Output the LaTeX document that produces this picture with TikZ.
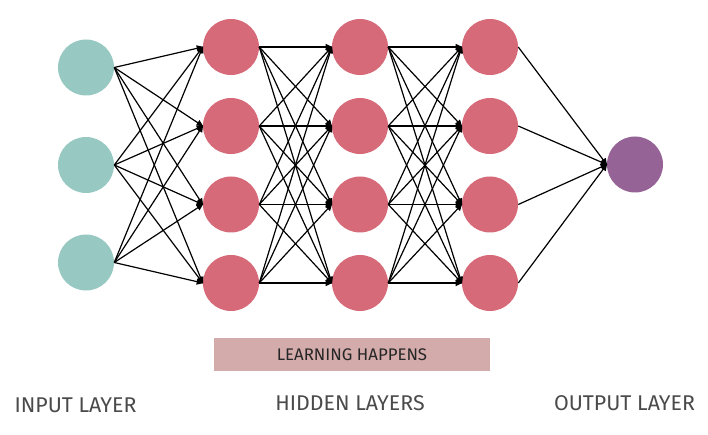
\documentclass[tikz,border=0pt]{standalone}
\usepackage{fontspec}
\setmainfont{Fira Sans}
\usetikzlibrary{arrows.meta}
\definecolor{inC}{HTML}{97C8C2}
\definecolor{hidC}{HTML}{D76A78}
\definecolor{outC}{HTML}{956395}
\definecolor{boxC}{HTML}{D3ABAA}
\definecolor{txtC}{HTML}{4A4A4A}
\begin{document}
\begin{tikzpicture}[x=0.75pt,y=-0.75pt,
  neuron/.style={circle,minimum size=42pt,inner sep=0pt,draw=none},
  innode/.style={neuron,fill=inC},
  hidnode/.style={neuron,fill=hidC},
  outnode/.style={neuron,fill=outC},
  conn/.style={line width=0.9pt,black,-{Triangle[length=5pt,width=4.5pt]},shorten >=-0.5pt},
  lbl/.style={text=txtC,font=\fontsize{16}{18}\selectfont,inner sep=0pt}]
\useasboundingbox (0,0) rectangle (708,435);
\foreach \i/\y in {1/67.5,2/165,3/262.5}{\node[innode] (i\i) at (86,\y) {};}
\foreach \l/\x in {1/231,2/360,3/490}{
  \foreach \j/\y in {1/47,2/126,3/204.5,4/283}{\node[hidnode] (h\l\j) at (\x,\y) {};}}
\node[outnode] (o) at (635,164.5) {};
\foreach \i in {1,2,3}{\foreach \j in {1,2,3,4}{\draw[conn] (i\i.east) -- (h1\j.west);}}
\foreach \a/\b in {1/2,2/3}{\foreach \i in {1,2,3,4}{\foreach \j in {1,2,3,4}{\draw[conn] (h\a\i.east) -- (h\b\j.west);}}}
\foreach \i in {1,2,3,4}{\draw[conn] (h3\i.east) -- (o.west);}
\node[fill=boxC,minimum width=207pt,minimum height=24.5pt,inner sep=0pt] (box) at (352,354.5) {};
\node[text=black!85,font=\fontsize{12.6}{14}\selectfont,inner sep=0pt] (boxt) at (box.center) {LEARNING HAPPENS};
\node[lbl] (inl) at (75.5,405) {INPUT LAYER};
\node[lbl] (hidl) at (350,403) {HIDDEN LAYERS};
\node[lbl] (outl) at (624.5,403) {OUTPUT LAYER};
\end{tikzpicture}
\end{document}
